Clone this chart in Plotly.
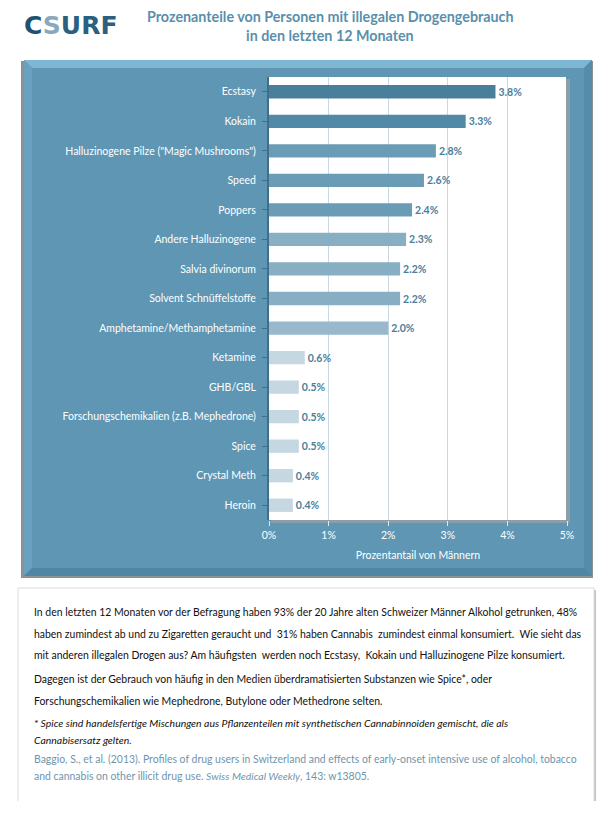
import plotly.graph_objects as go

categories = ["Ecstasy", "Kokain", "Halluzinogene Pilze (\"Magic Mushrooms\")", "Speed", "Poppers",
              "Andere Halluzinogene", "Salvia divinorum", "Solvent Schnüffelstoffe",
              "Amphetamine/Methamphetamine", "Ketamine", "GHB/GBL",
              "Forschungschemikalien (z.B. Mephedrone)", "Spice", "Crystal Meth", "Heroin"]
values = [3.8, 3.3, 2.8, 2.6, 2.4, 2.3, 2.2, 2.2, 2.0, 0.6, 0.5, 0.5, 0.5, 0.4, 0.4]
bar_colors = ["#4a7f9c", "#5189a7", "#6a9db5", "#6a9db5", "#6a9db5", "#88aec3", "#88aec3",
              "#88aec3", "#97b9cb", "#c5d7e0", "#c5d7e0", "#c5d7e0", "#c5d7e0", "#c5d7e0", "#c5d7e0"]
x_ticks = [0, 1, 2, 3, 4, 5]
x_tick_labels = ["0%", "1%", "2%", "3%", "4%", "5%"]

title_lines = ["Prozenanteile von Personen mit illegalen Drogengebrauch", "in den letzten 12 Monaten"]
title_y = [17, 36]
x_title = "Prozentantail von Männern"
body_lines = [
    "In den letzten 12 Monaten vor der Befragung haben 93% der 20 Jahre alten Schweizer Männer Alkohol getrunken, 48%",
    "haben zumindest ab und zu Zigaretten geraucht und  31% haben Cannabis  zumindest einmal konsumiert.  Wie sieht das",
    "mit anderen illegalen Drogen aus? Am häufigsten  werden noch Ecstasy,  Kokain und Halluzinogene Pilze konsumiert.",
    "Dagegen ist der Gebrauch von häufig in den Medien überdramatisierten Substanzen wie Spice*, oder",
    "Forschungschemikalien wie Mephedrone, Butylone oder Methedrone selten.",
    "<i>* Spice sind handelsfertige Mischungen aus Pflanzenteilen mit synthetischen Cannabinnoiden gemischt, die als</i>",
    "<i>Cannabisersatz gelten.</i>",
    "Baggio, S., et al. (2013). Profiles of drug users in Switzerland and effects of early-onset intensive use of alcohol, tobacco",
    "and cannabis on other illicit drug use. <i>Swiss Medical Weekly</i>, 143: w13805.",
]
body_y = [612, 634, 655, 679, 701, 723, 740, 759, 776]
body_colors = ["#111111"] * 7 + ["#6f95ad"] * 2

# page body has an 8px margin; figure is sized to fit inside the window
OFF = 8
W, H = 610 - 2 * OFF, 817 - 3 * OFF
FONT = "Lato"


def px(x):
    return (x - OFF) / W


def py(y):
    return 1 - (y - OFF) / H


def rect(x0, y0, x1, y1, fill, line=None):
    return dict(type="rect", xref="paper", yref="paper", x0=px(x0), x1=px(x1), y0=py(y1), y1=py(y0),
                fillcolor=fill, line=line or dict(width=0), layer="below")


def poly(points, fill):
    d = "M " + " L ".join(f"{px(a):.5f},{py(b):.5f}" for a, b in points) + " Z"
    return dict(type="path", xref="paper", yref="paper", path=d, fillcolor=fill,
                line=dict(width=0), layer="below")


fig = go.Figure()
fig.add_trace(go.Bar(
    x=values, y=categories, orientation="h",
    marker=dict(color=bar_colors, line=dict(width=0)),
    text=values, texttemplate="%{x:.1f}%", textposition="outside",
    textfont=dict(family=FONT, size=10.5, color="#4a7f9c", weight="bold"),
    cliponaxis=False, hoverinfo="skip",
))

B = 8  # bevel width
PX0, PY0, PX1, PY1 = 24, 60, 592, 576
shapes = [
    rect(21, 61, 593, 578, "#8a9296"),
    rect(PX0, PY0, PX1, PY1, "#5e96b4"),
    poly([(PX0, PY0), (PX1, PY0), (PX1 - B, PY0 + B), (PX0 + B, PY0 + B)], "#7fb7d3"),
    poly([(PX0, PY0), (PX0 + B, PY0 + B), (PX0 + B, PY1 - B), (PX0, PY1)], "#69a2c0"),
    poly([(PX1, PY0), (PX1, PY1), (PX1 - B, PY1 - B), (PX1 - B, PY0 + B)], "#548ca9"),
    poly([(PX0, PY1), (PX0 + B, PY1 - B), (PX1 - B, PY1 - B), (PX1, PY1)], "#4f86a3"),
    rect(271, 79, 570, 523, "#8d9ea8"),
    rect(269, 77, 566, 520, "white"),
    rect(20, 590, 596, 804, "#c4c4c4"),
    rect(18, 588, 594, 802, "white", dict(color="#dcdcdc", width=1)),
]

annotations = [
    dict(text="<b><span style='color:#1d5273'>C</span><span style='color:#89a8bc'>S</span>"
              "<span style='color:#2b6080'>URF</span></b>",
         xref="paper", yref="paper", x=px(22), y=py(9), xanchor="left", yanchor="top",
         showarrow=False, font=dict(family="DejaVu Sans", size=25)),
]
for line, yy in zip(title_lines, title_y):
    annotations.append(dict(text="<b>" + line + "</b>", xref="paper", yref="paper", x=px(330), y=py(yy),
                            xanchor="center", yanchor="middle", showarrow=False,
                            font=dict(family=FONT, size=14.3, color="#5a8fab")))
for line, yy, col in zip(body_lines, body_y, body_colors):
    annotations.append(dict(text=line, xref="paper", yref="paper", x=px(32), y=py(yy),
                            xanchor="left", yanchor="middle", showarrow=False,
                            font=dict(family=FONT, size=10.45, color=col)))

fig.update_layout(
    width=W, height=H,
    margin=dict(l=0, r=0, t=0, b=0, autoexpand=False),
    paper_bgcolor="white", plot_bgcolor="rgba(0,0,0,0)",
    showlegend=False, bargap=0.55,
    shapes=shapes, annotations=annotations,
    xaxis=dict(domain=[px(269), px(567)], range=[0, 5], tickvals=x_ticks, ticktext=x_tick_labels,
               automargin=False,
               showgrid=True, gridcolor="#c9d8e2", gridwidth=1, zeroline=False,
               ticks="outside", ticklen=5, tickcolor="#dfe9ef",
               tickfont=dict(family=FONT, size=10.5, color="white"),
               title=dict(text=x_title, font=dict(family=FONT, size=10.5, color="white"), standoff=12),
               fixedrange=True),
    yaxis=dict(domain=[py(520), py(77)], autorange="reversed", showline=True, automargin=False,
               linecolor="#3f6f8a", linewidth=2, ticks="outside", ticklen=5, tickcolor="#3f6f8a",
               tickfont=dict(family=FONT, size=10.5, color="white"), ticklabelstandoff=4,
               showgrid=False, fixedrange=True),
)

fig.write_html("out.html")
